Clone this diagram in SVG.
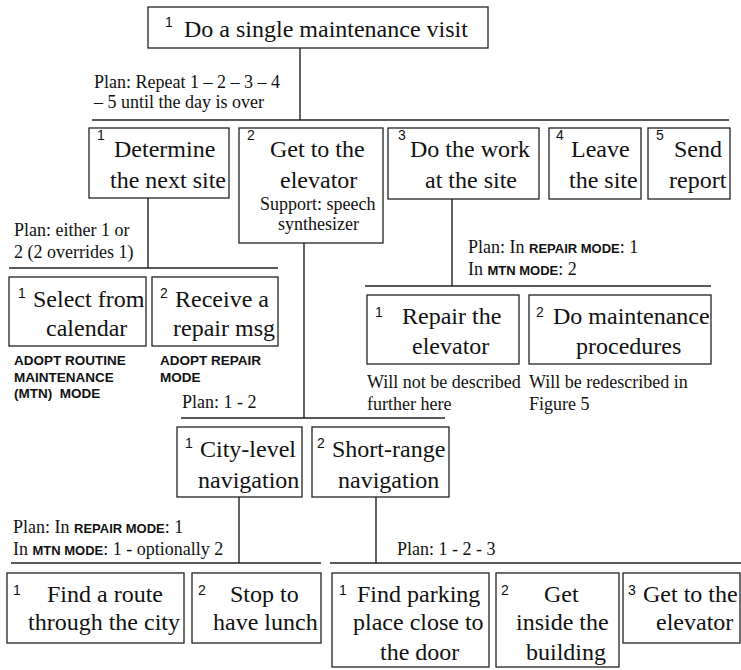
<svg xmlns="http://www.w3.org/2000/svg" width="741" height="670" viewBox="0 0 741 670">
<style>
.box{fill:#fff;stroke:#222;stroke-width:1.3}
.c line{stroke:#222;stroke-width:1.4}
.t{font-family:"Liberation Serif","Times New Roman",serif;font-size:24px;fill:#111}
.n{font-family:"Liberation Sans",Arial,sans-serif;font-size:14px;fill:#111}
.p{font-family:"Liberation Serif","Times New Roman",serif;font-size:18px;fill:#111}
.b{font-family:"Liberation Sans",Arial,sans-serif;font-size:13px;font-weight:bold}
.a{font-family:"Liberation Sans",Arial,sans-serif;font-size:13.5px;font-weight:bold;fill:#111}
</style>
<rect width="741" height="670" fill="#fff"/>
<g class="c" id="connectors">
<line x1="300" y1="48" x2="300" y2="120"/>
<line x1="92" y1="120" x2="729" y2="120"/>
<line x1="148" y1="198" x2="148" y2="268"/>
<line x1="9" y1="268" x2="278" y2="268"/>
<line x1="304" y1="243" x2="304" y2="418"/>
<line x1="181" y1="418" x2="445" y2="418"/>
<line x1="452" y1="199" x2="452" y2="286"/>
<line x1="365" y1="286" x2="711" y2="286"/>
<line x1="239" y1="497" x2="239" y2="563"/>
<line x1="11" y1="563" x2="321" y2="563"/>
<line x1="376" y1="497" x2="376" y2="563"/>
<line x1="330" y1="563" x2="741" y2="563"/>
</g>
<g id="plans">
<text class="p" x="94" y="88">Plan: Repeat 1 – 2 – 3 – 4</text>
<text class="p" x="94" y="108">– 5 until the day is over</text>
<text class="p" x="14" y="236">Plan: either 1 or</text>
<text class="p" x="14" y="258">2 (2 overrides 1)</text>
<text class="p" x="468" y="253">Plan: In <tspan class="b">REPAIR MODE</tspan>: 1</text>
<text class="p" x="468" y="275">In <tspan class="b">MTN MODE</tspan>: 2</text>
<text class="p" x="182" y="408">Plan: 1 - 2</text>
<text class="p" x="13" y="533">Plan: In <tspan class="b">REPAIR MODE</tspan>: 1</text>
<text class="p" x="13" y="555">In <tspan class="b">MTN MODE</tspan>: 1 - optionally 2</text>
<text class="p" x="397" y="555">Plan: 1 - 2 - 3</text>
</g>
<g id="n-visit">
<rect class="box" x="148" y="7" width="340" height="41"/>
<text class="n" x="165" y="27">1</text>
<text class="t" x="184" y="37">Do a single maintenance visit</text>
</g>
<g id="n-determine">
<rect class="box" x="89" y="128" width="140" height="70"/>
<text class="n" x="97" y="140">1</text>
<text class="t" x="114" y="157">Determine</text>
<text class="t" x="110" y="188">the next site</text>
</g>
<g id="n-getto">
<rect class="box" x="239" y="128" width="144" height="115"/>
<text class="n" x="247" y="140">2</text>
<text class="t" x="270" y="157">Get to the</text>
<text class="t" x="280" y="188">elevator</text>
<text class="p" x="260" y="210">Support: speech</text>
<text class="p" x="278" y="230">synthesizer</text>
</g>
<g id="n-dowork">
<rect class="box" x="388" y="128" width="151" height="71"/>
<text class="n" x="398" y="140">3</text>
<text class="t" x="410" y="157">Do the work</text>
<text class="t" x="425" y="188">at the site</text>
</g>
<g id="n-leave">
<rect class="box" x="549" y="128" width="92" height="71"/>
<text class="n" x="556" y="140">4</text>
<text class="t" x="571" y="157">Leave</text>
<text class="t" x="569" y="188">the site</text>
</g>
<g id="n-send">
<rect class="box" x="648" y="128" width="82" height="71"/>
<text class="n" x="656" y="140">5</text>
<text class="t" x="674" y="157">Send</text>
<text class="t" x="669" y="188">report</text>
</g>
<g id="n-select">
<rect class="box" x="9" y="277" width="137" height="69"/>
<text class="n" x="18" y="298">1</text>
<text class="t" x="33" y="307">Select from</text>
<text class="t" x="46" y="336">calendar</text>
<text class="a" x="14" y="365">ADOPT ROUTINE</text>
<text class="a" x="14" y="382">MAINTENANCE</text>
<text class="a" x="14" y="398">(MTN)&#160; MODE</text>
</g>
<g id="n-receive">
<rect class="box" x="152" y="277" width="126" height="69"/>
<text class="n" x="160" y="298">2</text>
<text class="t" x="175" y="307">Receive a</text>
<text class="t" x="173" y="336">repair msg</text>
<text class="a" x="160" y="365">ADOPT REPAIR</text>
<text class="a" x="160" y="382">MODE</text>
</g>
<g id="n-repair">
<rect class="box" x="367" y="295" width="152" height="69"/>
<text class="n" x="375" y="317">1</text>
<text class="t" x="402" y="324">Repair the</text>
<text class="t" x="412" y="354">elevator</text>
<text class="p" x="367" y="388">Will not be described</text>
<text class="p" x="367" y="410">further here</text>
</g>
<g id="n-maint">
<rect class="box" x="529" y="295" width="182" height="69"/>
<text class="n" x="536" y="317">2</text>
<text class="t" x="553" y="324">Do maintenance</text>
<text class="t" x="576" y="354">procedures</text>
<text class="p" x="529" y="388">Will be redescribed in</text>
<text class="p" x="529" y="410">Figure 5</text>
</g>
<g id="n-city">
<rect class="box" x="177" y="427" width="125" height="70"/>
<text class="n" x="185" y="448">1</text>
<text class="t" x="200" y="457">City-level</text>
<text class="t" x="198" y="488">navigation</text>
</g>
<g id="n-short">
<rect class="box" x="312" y="427" width="137" height="70"/>
<text class="n" x="317" y="448">2</text>
<text class="t" x="332" y="457">Short-range</text>
<text class="t" x="338" y="488">navigation</text>
</g>
<g id="n-route">
<rect class="box" x="7" y="573" width="177" height="70"/>
<text class="n" x="13" y="595">1</text>
<text class="t" x="47" y="602">Find a route</text>
<text class="t" x="28" y="630">through the city</text>
</g>
<g id="n-lunch">
<rect class="box" x="192" y="573" width="129" height="70"/>
<text class="n" x="198" y="595">2</text>
<text class="t" x="230" y="602">Stop to</text>
<text class="t" x="213" y="630">have lunch</text>
</g>
<g id="n-parking">
<rect class="box" x="332" y="573" width="157" height="94"/>
<text class="n" x="339" y="595">1</text>
<text class="t" x="357" y="602">Find parking</text>
<text class="t" x="353" y="630">place close to</text>
<text class="t" x="380" y="660">the door</text>
</g>
<g id="n-inside">
<rect class="box" x="496" y="573" width="123" height="94"/>
<text class="n" x="501" y="595">2</text>
<text class="t" x="544" y="602">Get</text>
<text class="t" x="516" y="630">inside the</text>
<text class="t" x="526" y="660">building</text>
</g>
<g id="n-elev">
<rect class="box" x="623" y="573" width="117" height="70"/>
<text class="n" x="628" y="595">3</text>
<text class="t" x="643" y="602">Get to the</text>
<text class="t" x="656" y="630">elevator</text>
</g>
</svg>
